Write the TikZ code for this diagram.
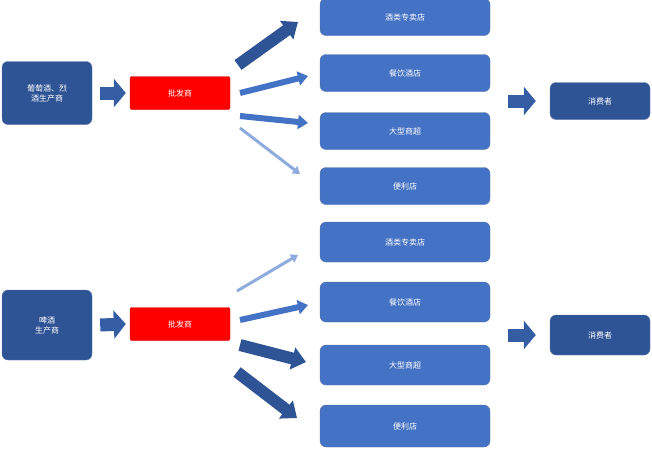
\documentclass[tikz,border=0pt]{standalone}
\usepackage{fontspec}
\newfontfamily\cjk{Noto Sans CJK SC}
\usetikzlibrary{arrows.meta}
\definecolor{darkb}{HTML}{2F5496}
\definecolor{midb}{HTML}{4472C4}
\definecolor{lightb}{HTML}{8FAADC}
\tikzset{
  box/.style={draw=darkb!80,fill=midb,rounded corners=6pt,text=white,font=\cjk\fontsize{8}{10}\selectfont,
    align=center,minimum width=170pt,minimum height=37pt},
  prod/.style={box,fill=darkb,minimum width=90pt,minimum height=63pt},
  sale/.style={box,fill=red,draw=red!80!black,rounded corners=2pt,minimum width=100pt,minimum height=33pt},
  cons/.style={box,fill=darkb,minimum width=100pt,minimum height=37pt},
  bigarr/.style={draw=darkb,line width=12pt,-{Triangle[length=14pt,width=22pt]}},
  midarr/.style={draw=midb,line width=6pt,-{Triangle[length=10pt,width=14pt]}},
  thinarr/.style={draw=lightb,line width=3pt,-{Triangle[length=7pt,width=9pt]}},
  stub/.style={draw=darkb!70!midb,line width=13pt,-{Triangle[length=12pt,width=28pt]}}
}
\begin{document}
\begin{tikzpicture}[x=1pt,y=-1pt]
\useasboundingbox (0,0) rectangle (652,450);
% top chain
\node[prod] (p1) at (47,93) {葡萄酒、烈\\酒生产商};
\node[sale] (w1) at (180,93) {批发商};
\node[box] (a1) at (405,17) {酒类专卖店};
\node[box] (b1) at (405,73) {餐饮酒店};
\node[box] (c1) at (405,131) {大型商超};
\node[box] (d1) at (405,186) {便利店};
\node[cons] (k1) at (600,101) {消费者};
% bottom chain
\node[prod,minimum height=70pt] (p2) at (47,325) {啤酒\\生产商};
\node[sale] (w2) at (180,324) {批发商};
\node[box,minimum height=40pt] (a2) at (405,242) {酒类专卖店};
\node[box,minimum height=40pt] (b2) at (405,302) {餐饮酒店};
\node[box,minimum height=40pt] (c2) at (405,365) {大型商超};
\node[box,minimum height=42pt] (d2) at (405,426) {便利店};
\node[cons,minimum height=40pt] (k2) at (600,335) {消费者};
% short arrows
\draw[stub] ([xshift=8pt]p1.east) -- ([xshift=-4pt]w1.west);
\draw[stub] ([xshift=8pt]p2.east) -- ([xshift=-4pt]w2.west);
\draw[stub] (508,101) -- ([xshift=-14pt]k1.west);
\draw[stub] (508,335) -- ([xshift=-14pt]k2.west);
% fan, top
\coordinate (t1) at (238,65);
\coordinate (t2) at (240,93);
\coordinate (t3) at (240,116);
\coordinate (t4) at (240,128);
\draw[bigarr] (t1) -- (298,22);
\draw[midarr] (t2) -- (308,76);
\draw[midarr] (t3) -- (308,123);
\draw[thinarr] (t4) -- (300,174);
% fan, bottom
\coordinate (s1) at (237,291);
\coordinate (s2) at (240,320);
\coordinate (s3) at (240,345);
\coordinate (s4) at (237,372);
\draw[thinarr] (s1) -- (298,255);
\draw[midarr] (s2) -- (308,305);
\draw[bigarr] (s3) -- (306,362);
\draw[bigarr] (s4) -- (297,418);
\end{tikzpicture}
\end{document}
